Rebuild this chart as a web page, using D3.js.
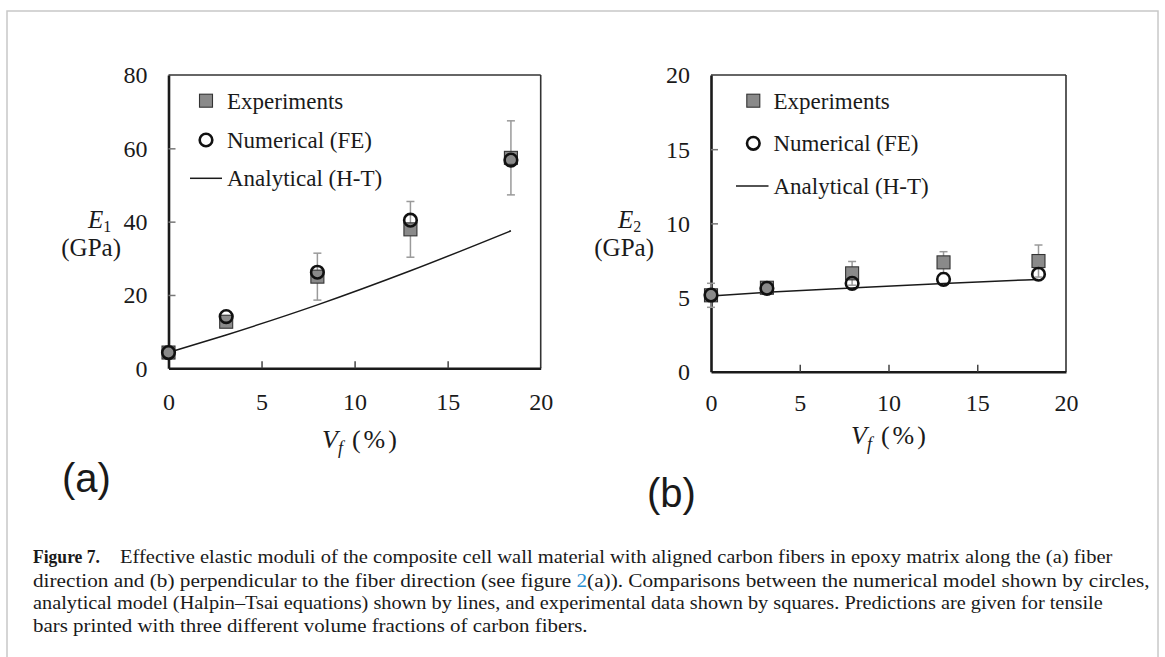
<!DOCTYPE html>
<html><head><meta charset="utf-8">
<script src="https://cdn.jsdelivr.net/npm/d3@7"></script>
<style>
html,body{margin:0;padding:0;background:#fff;}
svg{display:block;}
text{font-family:"Liberation Serif","Times New Roman",serif;fill:#1a1a1a;}
</style></head>
<body>
<svg id="c" width="1165" height="657"></svg>
<script>
// ---- data ----
const xTicks = [0, 5, 10, 15, 20];
const yTicksA = [0, 20, 40, 60, 80];
const yTicksB = [0, 5, 10, 15, 20];

const vfA  = [0, 3.1, 8.0, 13.0, 18.4];
const expA = [4.3, 12.7, 25.0, 37.9, 57.4];
const errA = [0.5, 1.2, 6.4, 7.6, 10.1];
const feA  = [4.3, 14.1, 26.2, 40.4, 56.8];
const htA  = [4.3, 9.1, 17.3, 26.6, 37.5];

const vfB  = [0, 3.15, 7.95, 13.1, 18.45];
const expB = [5.15, 5.66, 6.63, 7.37, 7.46];
const errB = [0.81, 0.2, 0.8, 0.72, 1.08];
const feB  = [5.17, 5.62, 5.96, 6.23, 6.57];
const htB  = [5.1, 5.35, 5.65, 5.95, 6.22];

const legendLabels = ["Experiments", "Numerical (FE)", "Analytical (H-T)"];

const captionLines = [
  "Effective elastic moduli of the composite cell wall material with aligned carbon fibers in epoxy matrix along the (a) fiber",
  ["direction and (b) perpendicular to the fiber direction (see figure ", "2", "(a)). Comparisons between the numerical model shown by circles,"],
  "analytical model (Halpin\u2013Tsai equations) shown by lines, and experimental data shown by squares. Predictions are given for tensile",
  "bars printed with three different volume fractions of carbon fibers."
];

const svg = d3.select("#c");

// outer figure border
svg.append("rect").attr("x", 7).attr("y", 11).attr("width", 1151).attr("height", 700)
  .attr("fill", "none").attr("stroke", "#c8c8c8").attr("stroke-width", 1.5);

function drawPanel(o) {
  const x = d3.scaleLinear().domain([0, 20]).range([o.left, o.right]);
  const y = d3.scaleLinear().domain(o.yDomain).range([o.bottom, o.top]);
  const g = svg.append("g");

  // frame
  g.append("line").attr("x1", o.left).attr("x2", o.right).attr("y1", o.top).attr("y2", o.top)
    .attr("stroke", "#333").attr("stroke-width", 1.6);
  g.append("line").attr("x1", o.right).attr("x2", o.right).attr("y1", o.top).attr("y2", o.bottom)
    .attr("stroke", "#333").attr("stroke-width", 1.6);

  // x axis (ticks inward)
  const xa = g.append("g").attr("transform", `translate(0,${o.bottom})`)
    .call(d3.axisBottom(x).tickValues(xTicks).tickSizeInner(-7).tickSizeOuter(0).tickFormat(d3.format("d")));
  xa.select(".domain").attr("stroke", "#1a1a1a").attr("stroke-width", 2.6);
  xa.selectAll(".tick line").attr("stroke", "#444").attr("stroke-width", 1.5)
    .filter(d => d === 0 || d === 20).remove();
  xa.selectAll(".tick text").attr("font-size", 24).attr("dy", null).attr("y", o.xLabelBase - o.bottom)
    .attr("fill", "#1a1a1a").style("font-family", '"Liberation Serif",serif');

  // y axis (ticks inward)
  const ya = g.append("g").attr("transform", `translate(${o.left},0)`)
    .call(d3.axisLeft(y).tickValues(o.yTicks).tickSizeInner(-7).tickSizeOuter(0).tickPadding(22).tickFormat(d3.format("d")));
  ya.select(".domain").attr("stroke", "#1a1a1a").attr("stroke-width", 2.6);
  ya.selectAll(".tick line").attr("stroke", "#777").attr("stroke-width", 1.5)
    .filter((d, i) => i === 0 || i === o.yTicks.length - 1).remove();
  ya.selectAll(".tick text").attr("font-size", 24).attr("dy", "0.33em").attr("x", -21)
    .attr("fill", "#1a1a1a").style("font-family", '"Liberation Serif",serif');

  // error bars
  const eb = g.append("g").attr("stroke", "#9a9a9a").attr("stroke-width", 1.5);
  o.vf.forEach((v, i) => {
    const cx = x(v), y1 = y(o.exp[i] + o.err[i]), y2 = y(o.exp[i] - o.err[i]);
    eb.append("line").attr("x1", cx).attr("x2", cx).attr("y1", y1).attr("y2", y2);
    eb.append("line").attr("x1", cx - 4).attr("x2", cx + 4).attr("y1", y1).attr("y2", y1);
    eb.append("line").attr("x1", cx - 4).attr("x2", cx + 4).attr("y1", y2).attr("y2", y2);
  });

  // analytical line
  const line = d3.line().x((d, i) => x(o.vf[i])).y(d => y(d)).curve(d3.curveMonotoneX);
  g.append("path").datum(o.ht).attr("d", line).attr("fill", "none")
    .attr("stroke", "#1a1a1a").attr("stroke-width", 1.5);

  // squares
  const s = 13;
  g.selectAll(null).data(o.exp).enter().append("rect")
    .attr("x", (d, i) => x(o.vf[i]) - s / 2).attr("y", d => y(d) - s / 2)
    .attr("width", s).attr("height", s)
    .attr("fill", "#8a8a8a").attr("stroke", "#333").attr("stroke-width", 1.1);

  // circles
  g.selectAll(null).data(o.fe).enter().append("circle")
    .attr("cx", (d, i) => x(o.vf[i])).attr("cy", d => y(d)).attr("r", 6.3)
    .attr("fill", "none").attr("stroke", "#111").attr("stroke-width", 2.6);

  // legend
  const L = o.legend;
  g.append("rect").attr("x", L.mx - 6.5).attr("y", L.ys[0] - 6.5).attr("width", 13).attr("height", 13)
    .attr("fill", "#8a8a8a").attr("stroke", "#333").attr("stroke-width", 1.1);
  g.append("circle").attr("cx", L.mx).attr("cy", L.ys[1]).attr("r", 6.3)
    .attr("fill", "none").attr("stroke", "#111").attr("stroke-width", 2.6);
  g.append("line").attr("x1", L.lx1).attr("x2", L.lx2).attr("y1", L.ys[2]).attr("y2", L.ys[2])
    .attr("stroke", "#1a1a1a").attr("stroke-width", 1.5);
  legendLabels.forEach((t, i) => {
    g.append("text").attr("x", L.tx).attr("y", L.ys[i] + 7.8).attr("font-size", 23).text(t);
  });

  // y title
  const yt = g.append("text").attr("x", o.eX).attr("y", o.eBase).attr("font-size", 25);
  yt.append("tspan").attr("font-style", "italic").text("E");
  yt.append("tspan").attr("font-size", 16).attr("dy", 4).text(o.sub);
  g.append("text").attr("x", o.gpaEnd).attr("y", o.eBase + 28).attr("text-anchor", "end")
    .attr("font-size", 25).text("(GPa)");

  // x title
  const xt = g.append("text").attr("x", o.vX).attr("y", o.vBase).attr("font-size", 26);
  xt.append("tspan").attr("font-style", "italic").text("V");
  xt.append("tspan").attr("font-style", "italic").attr("font-size", 18).attr("dy", 6).text("f");
  xt.append("tspan").attr("dy", -6).attr("dx", 9).attr("letter-spacing", 3).text("(%)");

  // panel letter
  g.append("text").attr("x", o.letterX).attr("y", o.letterY)
    .style("font-family", '"Liberation Sans",Arial,sans-serif').attr("font-size", 40).attr("fill", "#111")
    .text(o.letter);
}

drawPanel({
  left: 168.5, right: 540.7, top: 75, bottom: 368.3, yDomain: [0, 80], yTicks: yTicksA,
  vf: vfA, exp: expA, err: errA, fe: feA, ht: htA, xLabelBase: 410,
  legend: { mx: 206, tx: 227, lx1: 190, lx2: 222, ys: [100.7, 140, 178.3] },
  sub: "1", eX: 88, eBase: 228, gpaEnd: 121,
  vX: 322, vBase: 448, letter: "(a)", letterX: 62, letterY: 492
});
drawPanel({
  left: 711, right: 1066, top: 75, bottom: 371.7, yDomain: [0, 20], yTicks: yTicksB,
  vf: vfB, exp: expB, err: errB, fe: feB, ht: htB, xLabelBase: 411,
  legend: { mx: 753.3, tx: 773.5, lx1: 736, lx2: 768.5, ys: [100.7, 143.3, 186] },
  sub: "2", eX: 618, eBase: 228, gpaEnd: 654,
  vX: 851, vBase: 444, letter: "(b)", letterX: 647, letterY: 507
});

// caption
const capG = svg.append("g").style("font-family", '"Liberation Serif",serif');
const bases = [563, 587, 609.5, 632];
function fitLine(textSel, x0, target) {
  const w = textSel.node().getComputedTextLength();
  textSel.attr("transform", `translate(${x0},0) scale(${target / w},1)`).attr("x", 0);
}
const fig = capG.append("text").attr("y", bases[0]).attr("font-size", 19).attr("font-weight", "bold")
  .attr("fill", "#222").text("Figure\u00a07.");
fitLine(fig, 33, 67);
const widths = [1113 - 120, 1150 - 33, 1104 - 33, 588 - 33];
captionLines.forEach((ln, i) => {
  const t = capG.append("text").attr("y", bases[i]).attr("font-size", 19).attr("fill", "#222");
  if (Array.isArray(ln)) {
    t.append("tspan").text(ln[0]);
    t.append("tspan").attr("fill", "#2a8fd0").text(ln[1]);
    t.append("tspan").text(ln[2]);
  } else t.text(ln);
  fitLine(t, i === 0 ? 120 : 33, widths[i]);
});
</script>
</body></html>
